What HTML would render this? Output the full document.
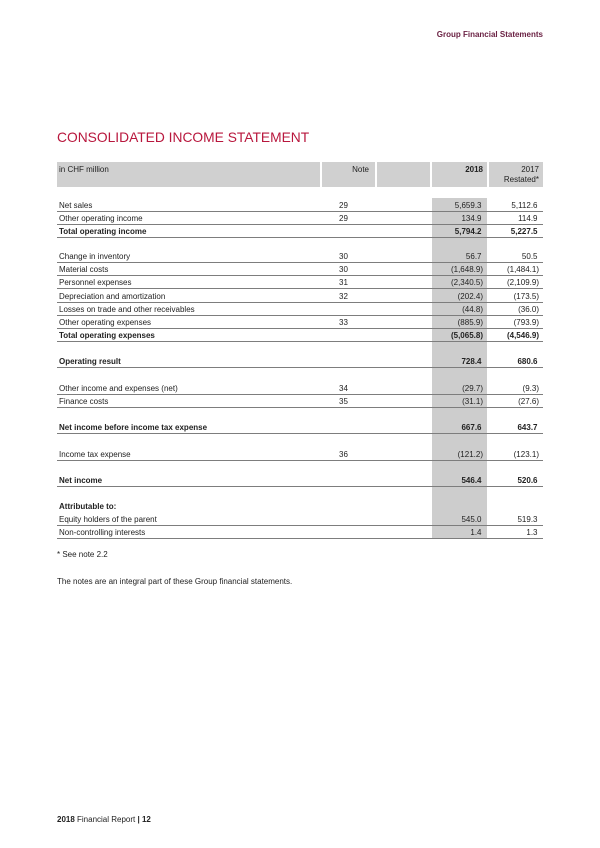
<!DOCTYPE html>
<html>
<head>
<meta charset="utf-8">
<style>
  html,body{margin:0;padding:0;background:#fff;}
  #page{position:relative;width:600px;height:848px;background:#fff;overflow:hidden;
        font-family:"Liberation Sans",Arial,sans-serif;color:#222;font-size:8px;}
  .abs{position:absolute;white-space:nowrap;}
  .hdrtop{right:57px;top:30px;font-size:8px;font-weight:bold;color:#6b2244;line-height:10px;}
  .title{left:57px;top:131px;font-size:13.8px;line-height:14px;color:#b8173d;}
  .hc{position:absolute;top:162px;height:25px;background:#d0d0d0;}
  .ht{position:absolute;line-height:10px;font-size:8px;}
  .shade{position:absolute;left:432px;width:55px;top:198px;height:341px;background:#cdcdcd;}
  .row{position:absolute;left:57px;width:486px;height:13px;border-bottom:1px solid #7d7d7d;}
  .row.noline{border-bottom:1px solid transparent;}
  .row span{position:absolute;top:1px;line-height:13px;}
  .lab{left:2px;}
  .note{left:282px;}
  .v18{right:60px;}
  .v17{right:4px;}
  .pos{margin-right:1.5px;}
  .b{font-weight:bold;}
</style>
</head>
<body>
<div id="page">
  <div class="abs hdrtop">Group Financial Statements</div>
  <div class="abs title">CONSOLIDATED INCOME STATEMENT</div>

  <div class="hc" style="left:57px;width:263px;"></div>
  <div class="hc" style="left:322px;width:53px;"></div>
  <div class="hc" style="left:377px;width:53px;"></div>
  <div class="hc" style="left:432px;width:55px;"></div>
  <div class="hc" style="left:489px;width:54px;"></div>
  <div class="ht" style="left:59px;top:165px;">in CHF million</div>
  <div class="ht" style="right:231px;top:165px;">Note</div>
  <div class="ht b" style="right:117px;top:165px;">2018</div>
  <div class="ht" style="right:61px;top:165px;">2017</div>
  <div class="ht" style="right:61px;top:175px;">Restated*</div>

  <div class="shade"></div>

  <div class="row" style="top:198px;"><span class="lab">Net sales</span><span class="note">29</span><span class="v18 pos">5,659.3</span><span class="v17 pos">5,112.6</span></div>
  <div class="row" style="top:211px;"><span class="lab">Other operating income</span><span class="note">29</span><span class="v18 pos">134.9</span><span class="v17 pos">114.9</span></div>
  <div class="row b" style="top:224px;"><span class="lab">Total operating income</span><span class="v18 pos">5,794.2</span><span class="v17 pos">5,227.5</span></div>

  <div class="row" style="top:249px;"><span class="lab">Change in inventory</span><span class="note">30</span><span class="v18 pos">56.7</span><span class="v17 pos">50.5</span></div>
  <div class="row" style="top:262px;"><span class="lab">Material costs</span><span class="note">30</span><span class="v18">(1,648.9)</span><span class="v17">(1,484.1)</span></div>
  <div class="row" style="top:275px;"><span class="lab">Personnel expenses</span><span class="note">31</span><span class="v18">(2,340.5)</span><span class="v17">(2,109.9)</span></div>
  <div class="row" style="top:289px;"><span class="lab">Depreciation and amortization</span><span class="note">32</span><span class="v18">(202.4)</span><span class="v17">(173.5)</span></div>
  <div class="row" style="top:302px;"><span class="lab">Losses on trade and other receivables</span><span class="v18">(44.8)</span><span class="v17">(36.0)</span></div>
  <div class="row" style="top:315px;"><span class="lab">Other operating expenses</span><span class="note">33</span><span class="v18">(885.9)</span><span class="v17">(793.9)</span></div>
  <div class="row b" style="top:328px;"><span class="lab">Total operating expenses</span><span class="v18">(5,065.8)</span><span class="v17">(4,546.9)</span></div>

  <div class="row b" style="top:354px;"><span class="lab">Operating result</span><span class="v18 pos">728.4</span><span class="v17 pos">680.6</span></div>

  <div class="row" style="top:381px;"><span class="lab">Other income and expenses (net)</span><span class="note">34</span><span class="v18">(29.7)</span><span class="v17">(9.3)</span></div>
  <div class="row" style="top:394px;"><span class="lab">Finance costs</span><span class="note">35</span><span class="v18">(31.1)</span><span class="v17">(27.6)</span></div>

  <div class="row b" style="top:420px;"><span class="lab">Net income before income tax expense</span><span class="v18 pos">667.6</span><span class="v17 pos">643.7</span></div>

  <div class="row" style="top:447px;"><span class="lab">Income tax expense</span><span class="note">36</span><span class="v18">(121.2)</span><span class="v17">(123.1)</span></div>

  <div class="row b" style="top:473px;"><span class="lab">Net income</span><span class="v18 pos">546.4</span><span class="v17 pos">520.6</span></div>

  <div class="row noline b" style="top:499px;"><span class="lab">Attributable to:</span></div>
  <div class="row" style="top:512px;"><span class="lab">Equity holders of the parent</span><span class="v18 pos">545.0</span><span class="v17 pos">519.3</span></div>
  <div class="row" style="top:525px;"><span class="lab">Non-controlling interests</span><span class="v18 pos">1.4</span><span class="v17 pos">1.3</span></div>

  <div class="abs" style="left:57px;top:550px;line-height:10px;">* See note 2.2</div>
  <div class="abs" style="left:57px;top:577px;line-height:10px;">The notes are an integral part of these Group financial statements.</div>

  <div class="abs" style="left:57px;top:815px;line-height:10px;"><b>2018</b> Financial Report <b>| 12</b></div>
</div>
</body>
</html>
